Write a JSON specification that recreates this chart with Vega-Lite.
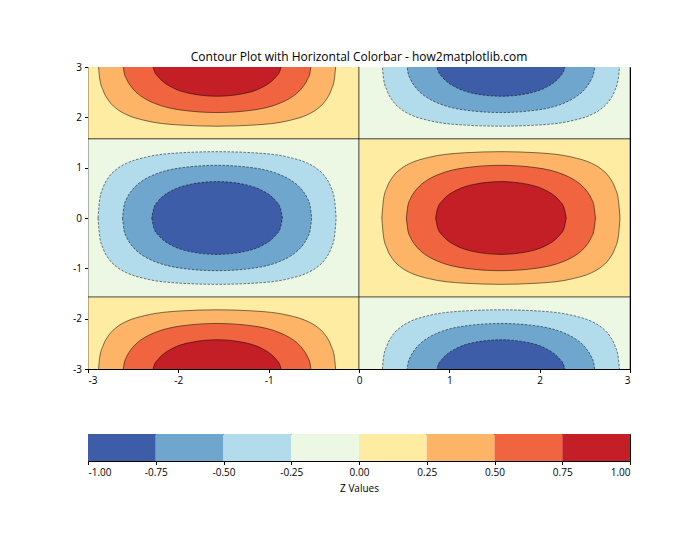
{
  "$schema": "https://vega.github.io/schema/vega-lite/v6.json",
  "padding": {"left": 72, "top": 50, "right": 5, "bottom": 5},
  "spacing": 47,
  "config": {
    "font": "Open Sans",
    "view": {"stroke": "black", "strokeWidth": 1},
    "axis": {"domainColor": "black", "domainWidth": 1, "tickColor": "black", "tickSize": 3.5, "tickWidth": 1, "labelFontSize": 10, "labelColor": "black", "labelPadding": 3, "grid": false, "titleFontSize": 10, "titleFontWeight": "normal", "titleColor": "black"},
    "title": {"fontSize": 12, "fontWeight": "normal", "color": "black", "frame": "group", "offset": -2}
  },
  "vconcat": [
    {
      "title": "Contour Plot with Horizontal Colorbar - how2matplotlib.com",
      "width": 542,
      "height": 302,
      "data": {"values": [
        {"c":"A0","l":0,"z":0.125,"x":-3,"y":1.5708,"y2":3.142},
        {"c":"A0","l":0,"z":0.125,"x":0,"y":1.5708,"y2":3.142},
        {"c":"B0","l":0,"z":-0.125,"x":0,"y":1.5708,"y2":3.142},
        {"c":"B0","l":0,"z":-0.125,"x":3,"y":1.5708,"y2":3.142},
        {"c":"C0","l":0,"z":-0.125,"x":-3,"y":-1.5708,"y2":1.5708},
        {"c":"C0","l":0,"z":-0.125,"x":0,"y":-1.5708,"y2":1.5708},
        {"c":"D0","l":0,"z":0.125,"x":0,"y":-1.5708,"y2":1.5708},
        {"c":"D0","l":0,"z":0.125,"x":3,"y":-1.5708,"y2":1.5708},
        {"c":"E0","l":0,"z":0.125,"x":-3,"y":-3.142,"y2":-1.5708},
        {"c":"E0","l":0,"z":0.125,"x":0,"y":-3.142,"y2":-1.5708},
        {"c":"F0","l":0,"z":-0.125,"x":0,"y":-3.142,"y2":-1.5708},
        {"c":"F0","l":0,"z":-0.125,"x":3,"y":-3.142,"y2":-1.5708},

        {"c":"A1","l":1,"z":0.375,"x":-2.889,"y":3.142,"y2":3.142},
        {"c":"A1","l":1,"z":0.375,"x":-2.871,"y":2.778,"y2":3.142},
        {"c":"A1","l":1,"z":0.375,"x":-2.831,"y":2.528,"y2":3.142},
        {"c":"A1","l":1,"z":0.375,"x":-2.771,"y":2.332,"y2":3.142},
        {"c":"A1","l":1,"z":0.375,"x":-2.671,"y":2.155,"y2":3.142},
        {"c":"A1","l":1,"z":0.375,"x":-2.571,"y":2.052,"y2":3.142},
        {"c":"A1","l":1,"z":0.375,"x":-2.371,"y":1.938,"y2":3.142},
        {"c":"A1","l":1,"z":0.375,"x":-1.971,"y":1.846,"y2":3.142},
        {"c":"A1","l":1,"z":0.375,"x":-1.571,"y":1.824,"y2":3.142},
        {"c":"A1","l":1,"z":0.375,"x":-1.171,"y":1.846,"y2":3.142},
        {"c":"A1","l":1,"z":0.375,"x":-0.771,"y":1.938,"y2":3.142},
        {"c":"A1","l":1,"z":0.375,"x":-0.571,"y":2.052,"y2":3.142},
        {"c":"A1","l":1,"z":0.375,"x":-0.471,"y":2.155,"y2":3.142},
        {"c":"A1","l":1,"z":0.375,"x":-0.371,"y":2.332,"y2":3.142},
        {"c":"A1","l":1,"z":0.375,"x":-0.311,"y":2.528,"y2":3.142},
        {"c":"A1","l":1,"z":0.375,"x":-0.271,"y":2.778,"y2":3.142},
        {"c":"A1","l":1,"z":0.375,"x":-0.253,"y":3.142,"y2":3.142},

        {"c":"C1","l":1,"z":-0.375,"x":-2.889,"y":0,"y2":0},
        {"c":"C1","l":1,"z":-0.375,"x":-2.871,"y":-0.364,"y2":0.364},
        {"c":"C1","l":1,"z":-0.375,"x":-2.831,"y":-0.614,"y2":0.614},
        {"c":"C1","l":1,"z":-0.375,"x":-2.771,"y":-0.81,"y2":0.81},
        {"c":"C1","l":1,"z":-0.375,"x":-2.671,"y":-0.987,"y2":0.987},
        {"c":"C1","l":1,"z":-0.375,"x":-2.571,"y":-1.09,"y2":1.09},
        {"c":"C1","l":1,"z":-0.375,"x":-2.371,"y":-1.204,"y2":1.204},
        {"c":"C1","l":1,"z":-0.375,"x":-1.971,"y":-1.296,"y2":1.296},
        {"c":"C1","l":1,"z":-0.375,"x":-1.571,"y":-1.318,"y2":1.318},
        {"c":"C1","l":1,"z":-0.375,"x":-1.171,"y":-1.296,"y2":1.296},
        {"c":"C1","l":1,"z":-0.375,"x":-0.771,"y":-1.204,"y2":1.204},
        {"c":"C1","l":1,"z":-0.375,"x":-0.571,"y":-1.09,"y2":1.09},
        {"c":"C1","l":1,"z":-0.375,"x":-0.471,"y":-0.987,"y2":0.987},
        {"c":"C1","l":1,"z":-0.375,"x":-0.371,"y":-0.81,"y2":0.81},
        {"c":"C1","l":1,"z":-0.375,"x":-0.311,"y":-0.614,"y2":0.614},
        {"c":"C1","l":1,"z":-0.375,"x":-0.271,"y":-0.364,"y2":0.364},
        {"c":"C1","l":1,"z":-0.375,"x":-0.253,"y":0,"y2":0},

        {"c":"E1","l":1,"z":0.375,"x":-2.889,"y":-3.142,"y2":-3.142},
        {"c":"E1","l":1,"z":0.375,"x":-2.871,"y":-3.142,"y2":-2.778},
        {"c":"E1","l":1,"z":0.375,"x":-2.831,"y":-3.142,"y2":-2.528},
        {"c":"E1","l":1,"z":0.375,"x":-2.771,"y":-3.142,"y2":-2.332},
        {"c":"E1","l":1,"z":0.375,"x":-2.671,"y":-3.142,"y2":-2.155},
        {"c":"E1","l":1,"z":0.375,"x":-2.571,"y":-3.142,"y2":-2.052},
        {"c":"E1","l":1,"z":0.375,"x":-2.371,"y":-3.142,"y2":-1.938},
        {"c":"E1","l":1,"z":0.375,"x":-1.971,"y":-3.142,"y2":-1.846},
        {"c":"E1","l":1,"z":0.375,"x":-1.571,"y":-3.142,"y2":-1.824},
        {"c":"E1","l":1,"z":0.375,"x":-1.171,"y":-3.142,"y2":-1.846},
        {"c":"E1","l":1,"z":0.375,"x":-0.771,"y":-3.142,"y2":-1.938},
        {"c":"E1","l":1,"z":0.375,"x":-0.571,"y":-3.142,"y2":-2.052},
        {"c":"E1","l":1,"z":0.375,"x":-0.471,"y":-3.142,"y2":-2.155},
        {"c":"E1","l":1,"z":0.375,"x":-0.371,"y":-3.142,"y2":-2.332},
        {"c":"E1","l":1,"z":0.375,"x":-0.311,"y":-3.142,"y2":-2.528},
        {"c":"E1","l":1,"z":0.375,"x":-0.271,"y":-3.142,"y2":-2.778},
        {"c":"E1","l":1,"z":0.375,"x":-0.253,"y":-3.142,"y2":-3.142},

        {"c":"B1","l":1,"z":-0.375,"x":0.253,"y":3.142,"y2":3.142},
        {"c":"B1","l":1,"z":-0.375,"x":0.271,"y":2.778,"y2":3.142},
        {"c":"B1","l":1,"z":-0.375,"x":0.311,"y":2.528,"y2":3.142},
        {"c":"B1","l":1,"z":-0.375,"x":0.371,"y":2.332,"y2":3.142},
        {"c":"B1","l":1,"z":-0.375,"x":0.471,"y":2.155,"y2":3.142},
        {"c":"B1","l":1,"z":-0.375,"x":0.571,"y":2.052,"y2":3.142},
        {"c":"B1","l":1,"z":-0.375,"x":0.771,"y":1.938,"y2":3.142},
        {"c":"B1","l":1,"z":-0.375,"x":1.171,"y":1.846,"y2":3.142},
        {"c":"B1","l":1,"z":-0.375,"x":1.571,"y":1.824,"y2":3.142},
        {"c":"B1","l":1,"z":-0.375,"x":1.971,"y":1.846,"y2":3.142},
        {"c":"B1","l":1,"z":-0.375,"x":2.371,"y":1.938,"y2":3.142},
        {"c":"B1","l":1,"z":-0.375,"x":2.571,"y":2.052,"y2":3.142},
        {"c":"B1","l":1,"z":-0.375,"x":2.671,"y":2.155,"y2":3.142},
        {"c":"B1","l":1,"z":-0.375,"x":2.771,"y":2.332,"y2":3.142},
        {"c":"B1","l":1,"z":-0.375,"x":2.831,"y":2.528,"y2":3.142},
        {"c":"B1","l":1,"z":-0.375,"x":2.871,"y":2.778,"y2":3.142},
        {"c":"B1","l":1,"z":-0.375,"x":2.889,"y":3.142,"y2":3.142},

        {"c":"D1","l":1,"z":0.375,"x":0.253,"y":0,"y2":0},
        {"c":"D1","l":1,"z":0.375,"x":0.271,"y":-0.364,"y2":0.364},
        {"c":"D1","l":1,"z":0.375,"x":0.311,"y":-0.614,"y2":0.614},
        {"c":"D1","l":1,"z":0.375,"x":0.371,"y":-0.81,"y2":0.81},
        {"c":"D1","l":1,"z":0.375,"x":0.471,"y":-0.987,"y2":0.987},
        {"c":"D1","l":1,"z":0.375,"x":0.571,"y":-1.09,"y2":1.09},
        {"c":"D1","l":1,"z":0.375,"x":0.771,"y":-1.204,"y2":1.204},
        {"c":"D1","l":1,"z":0.375,"x":1.171,"y":-1.296,"y2":1.296},
        {"c":"D1","l":1,"z":0.375,"x":1.571,"y":-1.318,"y2":1.318},
        {"c":"D1","l":1,"z":0.375,"x":1.971,"y":-1.296,"y2":1.296},
        {"c":"D1","l":1,"z":0.375,"x":2.371,"y":-1.204,"y2":1.204},
        {"c":"D1","l":1,"z":0.375,"x":2.571,"y":-1.09,"y2":1.09},
        {"c":"D1","l":1,"z":0.375,"x":2.671,"y":-0.987,"y2":0.987},
        {"c":"D1","l":1,"z":0.375,"x":2.771,"y":-0.81,"y2":0.81},
        {"c":"D1","l":1,"z":0.375,"x":2.831,"y":-0.614,"y2":0.614},
        {"c":"D1","l":1,"z":0.375,"x":2.871,"y":-0.364,"y2":0.364},
        {"c":"D1","l":1,"z":0.375,"x":2.889,"y":0,"y2":0},

        {"c":"F1","l":1,"z":-0.375,"x":0.253,"y":-3.142,"y2":-3.142},
        {"c":"F1","l":1,"z":-0.375,"x":0.271,"y":-3.142,"y2":-2.778},
        {"c":"F1","l":1,"z":-0.375,"x":0.311,"y":-3.142,"y2":-2.528},
        {"c":"F1","l":1,"z":-0.375,"x":0.371,"y":-3.142,"y2":-2.332},
        {"c":"F1","l":1,"z":-0.375,"x":0.471,"y":-3.142,"y2":-2.155},
        {"c":"F1","l":1,"z":-0.375,"x":0.571,"y":-3.142,"y2":-2.052},
        {"c":"F1","l":1,"z":-0.375,"x":0.771,"y":-3.142,"y2":-1.938},
        {"c":"F1","l":1,"z":-0.375,"x":1.171,"y":-3.142,"y2":-1.846},
        {"c":"F1","l":1,"z":-0.375,"x":1.571,"y":-3.142,"y2":-1.824},
        {"c":"F1","l":1,"z":-0.375,"x":1.971,"y":-3.142,"y2":-1.846},
        {"c":"F1","l":1,"z":-0.375,"x":2.371,"y":-3.142,"y2":-1.938},
        {"c":"F1","l":1,"z":-0.375,"x":2.571,"y":-3.142,"y2":-2.052},
        {"c":"F1","l":1,"z":-0.375,"x":2.671,"y":-3.142,"y2":-2.155},
        {"c":"F1","l":1,"z":-0.375,"x":2.771,"y":-3.142,"y2":-2.332},
        {"c":"F1","l":1,"z":-0.375,"x":2.831,"y":-3.142,"y2":-2.528},
        {"c":"F1","l":1,"z":-0.375,"x":2.871,"y":-3.142,"y2":-2.778},
        {"c":"F1","l":1,"z":-0.375,"x":2.889,"y":-3.142,"y2":-3.142},

        {"c":"A2","l":2,"z":0.625,"x":-2.618,"y":3.142,"y2":3.142},
        {"c":"A2","l":2,"z":0.625,"x":-2.601,"y":2.901,"y2":3.142},
        {"c":"A2","l":2,"z":0.625,"x":-2.571,"y":2.753,"y2":3.142},
        {"c":"A2","l":2,"z":0.625,"x":-2.521,"y":2.607,"y2":3.142},
        {"c":"A2","l":2,"z":0.625,"x":-2.471,"y":2.506,"y2":3.142},
        {"c":"A2","l":2,"z":0.625,"x":-2.371,"y":2.372,"y2":3.142},
        {"c":"A2","l":2,"z":0.625,"x":-2.271,"y":2.284,"y2":3.142},
        {"c":"A2","l":2,"z":0.625,"x":-1.971,"y":2.145,"y2":3.142},
        {"c":"A2","l":2,"z":0.625,"x":-1.571,"y":2.095,"y2":3.142},
        {"c":"A2","l":2,"z":0.625,"x":-1.171,"y":2.145,"y2":3.142},
        {"c":"A2","l":2,"z":0.625,"x":-0.871,"y":2.284,"y2":3.142},
        {"c":"A2","l":2,"z":0.625,"x":-0.771,"y":2.372,"y2":3.142},
        {"c":"A2","l":2,"z":0.625,"x":-0.671,"y":2.506,"y2":3.142},
        {"c":"A2","l":2,"z":0.625,"x":-0.621,"y":2.607,"y2":3.142},
        {"c":"A2","l":2,"z":0.625,"x":-0.571,"y":2.753,"y2":3.142},
        {"c":"A2","l":2,"z":0.625,"x":-0.541,"y":2.901,"y2":3.142},
        {"c":"A2","l":2,"z":0.625,"x":-0.524,"y":3.142,"y2":3.142},

        {"c":"C2","l":2,"z":-0.625,"x":-2.618,"y":0,"y2":0},
        {"c":"C2","l":2,"z":-0.625,"x":-2.601,"y":-0.241,"y2":0.241},
        {"c":"C2","l":2,"z":-0.625,"x":-2.571,"y":-0.389,"y2":0.389},
        {"c":"C2","l":2,"z":-0.625,"x":-2.521,"y":-0.535,"y2":0.535},
        {"c":"C2","l":2,"z":-0.625,"x":-2.471,"y":-0.636,"y2":0.636},
        {"c":"C2","l":2,"z":-0.625,"x":-2.371,"y":-0.77,"y2":0.77},
        {"c":"C2","l":2,"z":-0.625,"x":-2.271,"y":-0.858,"y2":0.858},
        {"c":"C2","l":2,"z":-0.625,"x":-1.971,"y":-0.997,"y2":0.997},
        {"c":"C2","l":2,"z":-0.625,"x":-1.571,"y":-1.047,"y2":1.047},
        {"c":"C2","l":2,"z":-0.625,"x":-1.171,"y":-0.997,"y2":0.997},
        {"c":"C2","l":2,"z":-0.625,"x":-0.871,"y":-0.858,"y2":0.858},
        {"c":"C2","l":2,"z":-0.625,"x":-0.771,"y":-0.77,"y2":0.77},
        {"c":"C2","l":2,"z":-0.625,"x":-0.671,"y":-0.636,"y2":0.636},
        {"c":"C2","l":2,"z":-0.625,"x":-0.621,"y":-0.535,"y2":0.535},
        {"c":"C2","l":2,"z":-0.625,"x":-0.571,"y":-0.389,"y2":0.389},
        {"c":"C2","l":2,"z":-0.625,"x":-0.541,"y":-0.241,"y2":0.241},
        {"c":"C2","l":2,"z":-0.625,"x":-0.524,"y":0,"y2":0},

        {"c":"E2","l":2,"z":0.625,"x":-2.618,"y":-3.142,"y2":-3.142},
        {"c":"E2","l":2,"z":0.625,"x":-2.601,"y":-3.142,"y2":-2.901},
        {"c":"E2","l":2,"z":0.625,"x":-2.571,"y":-3.142,"y2":-2.753},
        {"c":"E2","l":2,"z":0.625,"x":-2.521,"y":-3.142,"y2":-2.607},
        {"c":"E2","l":2,"z":0.625,"x":-2.471,"y":-3.142,"y2":-2.506},
        {"c":"E2","l":2,"z":0.625,"x":-2.371,"y":-3.142,"y2":-2.372},
        {"c":"E2","l":2,"z":0.625,"x":-2.271,"y":-3.142,"y2":-2.284},
        {"c":"E2","l":2,"z":0.625,"x":-1.971,"y":-3.142,"y2":-2.145},
        {"c":"E2","l":2,"z":0.625,"x":-1.571,"y":-3.142,"y2":-2.095},
        {"c":"E2","l":2,"z":0.625,"x":-1.171,"y":-3.142,"y2":-2.145},
        {"c":"E2","l":2,"z":0.625,"x":-0.871,"y":-3.142,"y2":-2.284},
        {"c":"E2","l":2,"z":0.625,"x":-0.771,"y":-3.142,"y2":-2.372},
        {"c":"E2","l":2,"z":0.625,"x":-0.671,"y":-3.142,"y2":-2.506},
        {"c":"E2","l":2,"z":0.625,"x":-0.621,"y":-3.142,"y2":-2.607},
        {"c":"E2","l":2,"z":0.625,"x":-0.571,"y":-3.142,"y2":-2.753},
        {"c":"E2","l":2,"z":0.625,"x":-0.541,"y":-3.142,"y2":-2.901},
        {"c":"E2","l":2,"z":0.625,"x":-0.524,"y":-3.142,"y2":-3.142},

        {"c":"B2","l":2,"z":-0.625,"x":0.524,"y":3.142,"y2":3.142},
        {"c":"B2","l":2,"z":-0.625,"x":0.541,"y":2.901,"y2":3.142},
        {"c":"B2","l":2,"z":-0.625,"x":0.571,"y":2.753,"y2":3.142},
        {"c":"B2","l":2,"z":-0.625,"x":0.621,"y":2.607,"y2":3.142},
        {"c":"B2","l":2,"z":-0.625,"x":0.671,"y":2.506,"y2":3.142},
        {"c":"B2","l":2,"z":-0.625,"x":0.771,"y":2.372,"y2":3.142},
        {"c":"B2","l":2,"z":-0.625,"x":0.871,"y":2.284,"y2":3.142},
        {"c":"B2","l":2,"z":-0.625,"x":1.171,"y":2.145,"y2":3.142},
        {"c":"B2","l":2,"z":-0.625,"x":1.571,"y":2.095,"y2":3.142},
        {"c":"B2","l":2,"z":-0.625,"x":1.971,"y":2.145,"y2":3.142},
        {"c":"B2","l":2,"z":-0.625,"x":2.271,"y":2.284,"y2":3.142},
        {"c":"B2","l":2,"z":-0.625,"x":2.371,"y":2.372,"y2":3.142},
        {"c":"B2","l":2,"z":-0.625,"x":2.471,"y":2.506,"y2":3.142},
        {"c":"B2","l":2,"z":-0.625,"x":2.521,"y":2.607,"y2":3.142},
        {"c":"B2","l":2,"z":-0.625,"x":2.571,"y":2.753,"y2":3.142},
        {"c":"B2","l":2,"z":-0.625,"x":2.601,"y":2.901,"y2":3.142},
        {"c":"B2","l":2,"z":-0.625,"x":2.618,"y":3.142,"y2":3.142},

        {"c":"D2","l":2,"z":0.625,"x":0.524,"y":0,"y2":0},
        {"c":"D2","l":2,"z":0.625,"x":0.541,"y":-0.241,"y2":0.241},
        {"c":"D2","l":2,"z":0.625,"x":0.571,"y":-0.389,"y2":0.389},
        {"c":"D2","l":2,"z":0.625,"x":0.621,"y":-0.535,"y2":0.535},
        {"c":"D2","l":2,"z":0.625,"x":0.671,"y":-0.636,"y2":0.636},
        {"c":"D2","l":2,"z":0.625,"x":0.771,"y":-0.77,"y2":0.77},
        {"c":"D2","l":2,"z":0.625,"x":0.871,"y":-0.858,"y2":0.858},
        {"c":"D2","l":2,"z":0.625,"x":1.171,"y":-0.997,"y2":0.997},
        {"c":"D2","l":2,"z":0.625,"x":1.571,"y":-1.047,"y2":1.047},
        {"c":"D2","l":2,"z":0.625,"x":1.971,"y":-0.997,"y2":0.997},
        {"c":"D2","l":2,"z":0.625,"x":2.271,"y":-0.858,"y2":0.858},
        {"c":"D2","l":2,"z":0.625,"x":2.371,"y":-0.77,"y2":0.77},
        {"c":"D2","l":2,"z":0.625,"x":2.471,"y":-0.636,"y2":0.636},
        {"c":"D2","l":2,"z":0.625,"x":2.521,"y":-0.535,"y2":0.535},
        {"c":"D2","l":2,"z":0.625,"x":2.571,"y":-0.389,"y2":0.389},
        {"c":"D2","l":2,"z":0.625,"x":2.601,"y":-0.241,"y2":0.241},
        {"c":"D2","l":2,"z":0.625,"x":2.618,"y":0,"y2":0},

        {"c":"F2","l":2,"z":-0.625,"x":0.524,"y":-3.142,"y2":-3.142},
        {"c":"F2","l":2,"z":-0.625,"x":0.541,"y":-3.142,"y2":-2.901},
        {"c":"F2","l":2,"z":-0.625,"x":0.571,"y":-3.142,"y2":-2.753},
        {"c":"F2","l":2,"z":-0.625,"x":0.621,"y":-3.142,"y2":-2.607},
        {"c":"F2","l":2,"z":-0.625,"x":0.671,"y":-3.142,"y2":-2.506},
        {"c":"F2","l":2,"z":-0.625,"x":0.771,"y":-3.142,"y2":-2.372},
        {"c":"F2","l":2,"z":-0.625,"x":0.871,"y":-3.142,"y2":-2.284},
        {"c":"F2","l":2,"z":-0.625,"x":1.171,"y":-3.142,"y2":-2.145},
        {"c":"F2","l":2,"z":-0.625,"x":1.571,"y":-3.142,"y2":-2.095},
        {"c":"F2","l":2,"z":-0.625,"x":1.971,"y":-3.142,"y2":-2.145},
        {"c":"F2","l":2,"z":-0.625,"x":2.271,"y":-3.142,"y2":-2.284},
        {"c":"F2","l":2,"z":-0.625,"x":2.371,"y":-3.142,"y2":-2.372},
        {"c":"F2","l":2,"z":-0.625,"x":2.471,"y":-3.142,"y2":-2.506},
        {"c":"F2","l":2,"z":-0.625,"x":2.521,"y":-3.142,"y2":-2.607},
        {"c":"F2","l":2,"z":-0.625,"x":2.571,"y":-3.142,"y2":-2.753},
        {"c":"F2","l":2,"z":-0.625,"x":2.601,"y":-3.142,"y2":-2.901},
        {"c":"F2","l":2,"z":-0.625,"x":2.618,"y":-3.142,"y2":-3.142},

        {"c":"A3","l":3,"z":0.875,"x":-2.294,"y":3.142,"y2":3.142},
        {"c":"A3","l":3,"z":0.875,"x":-2.271,"y":2.945,"y2":3.142},
        {"c":"A3","l":3,"z":0.875,"x":-2.221,"y":2.802,"y2":3.142},
        {"c":"A3","l":3,"z":0.875,"x":-2.171,"y":2.711,"y2":3.142},
        {"c":"A3","l":3,"z":0.875,"x":-2.071,"y":2.596,"y2":3.142},
        {"c":"A3","l":3,"z":0.875,"x":-1.871,"y":2.474,"y2":3.142},
        {"c":"A3","l":3,"z":0.875,"x":-1.571,"y":2.419,"y2":3.142},
        {"c":"A3","l":3,"z":0.875,"x":-1.271,"y":2.474,"y2":3.142},
        {"c":"A3","l":3,"z":0.875,"x":-1.071,"y":2.596,"y2":3.142},
        {"c":"A3","l":3,"z":0.875,"x":-0.971,"y":2.711,"y2":3.142},
        {"c":"A3","l":3,"z":0.875,"x":-0.921,"y":2.802,"y2":3.142},
        {"c":"A3","l":3,"z":0.875,"x":-0.871,"y":2.945,"y2":3.142},
        {"c":"A3","l":3,"z":0.875,"x":-0.848,"y":3.142,"y2":3.142},

        {"c":"C3","l":3,"z":-0.875,"x":-2.294,"y":0,"y2":0},
        {"c":"C3","l":3,"z":-0.875,"x":-2.271,"y":-0.197,"y2":0.197},
        {"c":"C3","l":3,"z":-0.875,"x":-2.221,"y":-0.34,"y2":0.34},
        {"c":"C3","l":3,"z":-0.875,"x":-2.171,"y":-0.431,"y2":0.431},
        {"c":"C3","l":3,"z":-0.875,"x":-2.071,"y":-0.546,"y2":0.546},
        {"c":"C3","l":3,"z":-0.875,"x":-1.871,"y":-0.668,"y2":0.668},
        {"c":"C3","l":3,"z":-0.875,"x":-1.571,"y":-0.723,"y2":0.723},
        {"c":"C3","l":3,"z":-0.875,"x":-1.271,"y":-0.668,"y2":0.668},
        {"c":"C3","l":3,"z":-0.875,"x":-1.071,"y":-0.546,"y2":0.546},
        {"c":"C3","l":3,"z":-0.875,"x":-0.971,"y":-0.431,"y2":0.431},
        {"c":"C3","l":3,"z":-0.875,"x":-0.921,"y":-0.34,"y2":0.34},
        {"c":"C3","l":3,"z":-0.875,"x":-0.871,"y":-0.197,"y2":0.197},
        {"c":"C3","l":3,"z":-0.875,"x":-0.848,"y":0,"y2":0},

        {"c":"E3","l":3,"z":0.875,"x":-2.294,"y":-3.142,"y2":-3.142},
        {"c":"E3","l":3,"z":0.875,"x":-2.271,"y":-3.142,"y2":-2.945},
        {"c":"E3","l":3,"z":0.875,"x":-2.221,"y":-3.142,"y2":-2.802},
        {"c":"E3","l":3,"z":0.875,"x":-2.171,"y":-3.142,"y2":-2.711},
        {"c":"E3","l":3,"z":0.875,"x":-2.071,"y":-3.142,"y2":-2.596},
        {"c":"E3","l":3,"z":0.875,"x":-1.871,"y":-3.142,"y2":-2.474},
        {"c":"E3","l":3,"z":0.875,"x":-1.571,"y":-3.142,"y2":-2.419},
        {"c":"E3","l":3,"z":0.875,"x":-1.271,"y":-3.142,"y2":-2.474},
        {"c":"E3","l":3,"z":0.875,"x":-1.071,"y":-3.142,"y2":-2.596},
        {"c":"E3","l":3,"z":0.875,"x":-0.971,"y":-3.142,"y2":-2.711},
        {"c":"E3","l":3,"z":0.875,"x":-0.921,"y":-3.142,"y2":-2.802},
        {"c":"E3","l":3,"z":0.875,"x":-0.871,"y":-3.142,"y2":-2.945},
        {"c":"E3","l":3,"z":0.875,"x":-0.848,"y":-3.142,"y2":-3.142},

        {"c":"B3","l":3,"z":-0.875,"x":0.848,"y":3.142,"y2":3.142},
        {"c":"B3","l":3,"z":-0.875,"x":0.871,"y":2.945,"y2":3.142},
        {"c":"B3","l":3,"z":-0.875,"x":0.921,"y":2.802,"y2":3.142},
        {"c":"B3","l":3,"z":-0.875,"x":0.971,"y":2.711,"y2":3.142},
        {"c":"B3","l":3,"z":-0.875,"x":1.071,"y":2.596,"y2":3.142},
        {"c":"B3","l":3,"z":-0.875,"x":1.271,"y":2.474,"y2":3.142},
        {"c":"B3","l":3,"z":-0.875,"x":1.571,"y":2.419,"y2":3.142},
        {"c":"B3","l":3,"z":-0.875,"x":1.871,"y":2.474,"y2":3.142},
        {"c":"B3","l":3,"z":-0.875,"x":2.071,"y":2.596,"y2":3.142},
        {"c":"B3","l":3,"z":-0.875,"x":2.171,"y":2.711,"y2":3.142},
        {"c":"B3","l":3,"z":-0.875,"x":2.221,"y":2.802,"y2":3.142},
        {"c":"B3","l":3,"z":-0.875,"x":2.271,"y":2.945,"y2":3.142},
        {"c":"B3","l":3,"z":-0.875,"x":2.294,"y":3.142,"y2":3.142},

        {"c":"D3","l":3,"z":0.875,"x":0.848,"y":0,"y2":0},
        {"c":"D3","l":3,"z":0.875,"x":0.871,"y":-0.197,"y2":0.197},
        {"c":"D3","l":3,"z":0.875,"x":0.921,"y":-0.34,"y2":0.34},
        {"c":"D3","l":3,"z":0.875,"x":0.971,"y":-0.431,"y2":0.431},
        {"c":"D3","l":3,"z":0.875,"x":1.071,"y":-0.546,"y2":0.546},
        {"c":"D3","l":3,"z":0.875,"x":1.271,"y":-0.668,"y2":0.668},
        {"c":"D3","l":3,"z":0.875,"x":1.571,"y":-0.723,"y2":0.723},
        {"c":"D3","l":3,"z":0.875,"x":1.871,"y":-0.668,"y2":0.668},
        {"c":"D3","l":3,"z":0.875,"x":2.071,"y":-0.546,"y2":0.546},
        {"c":"D3","l":3,"z":0.875,"x":2.171,"y":-0.431,"y2":0.431},
        {"c":"D3","l":3,"z":0.875,"x":2.221,"y":-0.34,"y2":0.34},
        {"c":"D3","l":3,"z":0.875,"x":2.271,"y":-0.197,"y2":0.197},
        {"c":"D3","l":3,"z":0.875,"x":2.294,"y":0,"y2":0},

        {"c":"F3","l":3,"z":-0.875,"x":0.848,"y":-3.142,"y2":-3.142},
        {"c":"F3","l":3,"z":-0.875,"x":0.871,"y":-3.142,"y2":-2.945},
        {"c":"F3","l":3,"z":-0.875,"x":0.921,"y":-3.142,"y2":-2.802},
        {"c":"F3","l":3,"z":-0.875,"x":0.971,"y":-3.142,"y2":-2.711},
        {"c":"F3","l":3,"z":-0.875,"x":1.071,"y":-3.142,"y2":-2.596},
        {"c":"F3","l":3,"z":-0.875,"x":1.271,"y":-3.142,"y2":-2.474},
        {"c":"F3","l":3,"z":-0.875,"x":1.571,"y":-3.142,"y2":-2.419},
        {"c":"F3","l":3,"z":-0.875,"x":1.871,"y":-3.142,"y2":-2.474},
        {"c":"F3","l":3,"z":-0.875,"x":2.071,"y":-3.142,"y2":-2.596},
        {"c":"F3","l":3,"z":-0.875,"x":2.171,"y":-3.142,"y2":-2.711},
        {"c":"F3","l":3,"z":-0.875,"x":2.221,"y":-3.142,"y2":-2.802},
        {"c":"F3","l":3,"z":-0.875,"x":2.271,"y":-3.142,"y2":-2.945},
        {"c":"F3","l":3,"z":-0.875,"x":2.294,"y":-3.142,"y2":-3.142}
      ]},
      "encoding": {
        "x": {"field": "x", "type": "quantitative", "scale": {"domain": [-3, 3], "nice": false, "zero": false},
              "axis": {"values": [-3, -2, -1, 0, 1, 2, 3], "title": null, "labelExpr": "replace(datum.label, '\u2212', '-')"}},
        "y": {"field": "y", "type": "quantitative", "scale": {"domain": [-3, 3], "nice": false, "zero": false},
              "axis": {"values": [-3, -2, -1, 0, 1, 2, 3], "title": null, "labelExpr": "replace(datum.label, '\u2212', '-')"}},
        "y2": {"field": "y2"},
        "detail": {"field": "c", "type": "nominal"},
        "color": {"field": "z", "type": "quantitative", "legend": null,
                  "scale": {"type": "threshold", "domain": [-0.75, -0.5, -0.25, 0, 0.25, 0.5, 0.75],
                            "range": ["#3e5da8", "#6ea6cd", "#b2dceb", "#ecf8e3", "#feeca2", "#fdb467", "#f0653f", "#c41e27"]}}
      },
      "layer": [
        {"transform": [{"filter": "datum.l == 0"}], "mark": {"type": "area", "clip": true, "interpolate": "linear", "stroke": "black", "strokeWidth": 0.9, "strokeOpacity": 0.6, "fillOpacity": 1}},
        {"transform": [{"filter": "datum.l == 1 && datum.z > 0"}], "mark": {"type": "area", "clip": true, "interpolate": "monotone", "stroke": "black", "strokeWidth": 0.8, "strokeOpacity": 0.65, "fillOpacity": 1}},
        {"transform": [{"filter": "datum.l == 1 && datum.z < 0"}], "mark": {"type": "area", "clip": true, "interpolate": "monotone", "stroke": "black", "strokeWidth": 0.8, "strokeOpacity": 0.65, "strokeDash": [2.5, 1.5], "fillOpacity": 1}},
        {"transform": [{"filter": "datum.l == 2 && datum.z > 0"}], "mark": {"type": "area", "clip": true, "interpolate": "monotone", "stroke": "black", "strokeWidth": 0.8, "strokeOpacity": 0.65, "fillOpacity": 1}},
        {"transform": [{"filter": "datum.l == 2 && datum.z < 0"}], "mark": {"type": "area", "clip": true, "interpolate": "monotone", "stroke": "black", "strokeWidth": 0.8, "strokeOpacity": 0.65, "strokeDash": [2.5, 1.5], "fillOpacity": 1}},
        {"transform": [{"filter": "datum.l == 3 && datum.z > 0"}], "mark": {"type": "area", "clip": true, "interpolate": "monotone", "stroke": "black", "strokeWidth": 0.8, "strokeOpacity": 0.65, "fillOpacity": 1}},
        {"transform": [{"filter": "datum.l == 3 && datum.z < 0"}], "mark": {"type": "area", "clip": true, "interpolate": "monotone", "stroke": "black", "strokeWidth": 0.8, "strokeOpacity": 0.65, "strokeDash": [2.5, 1.5], "fillOpacity": 1}}
      ]
    },
    {
      "width": 542,
      "height": 27,
      "data": {"values": [
        {"a": -1, "b": -0.75, "z": -0.875},
        {"a": -0.75, "b": -0.5, "z": -0.625},
        {"a": -0.5, "b": -0.25, "z": -0.375},
        {"a": -0.25, "b": 0, "z": -0.125},
        {"a": 0, "b": 0.25, "z": 0.125},
        {"a": 0.25, "b": 0.5, "z": 0.375},
        {"a": 0.5, "b": 0.75, "z": 0.625},
        {"a": 0.75, "b": 1, "z": 0.875}
      ]},
      "mark": {"type": "rect"},
      "encoding": {
        "x": {"field": "a", "type": "quantitative", "scale": {"domain": [-1, 1], "nice": false, "zero": false},
              "axis": {"values": [-1, -0.75, -0.5, -0.25, 0, 0.25, 0.5, 0.75, 1], "format": ".2f", "title": "Z Values", "titlePadding": 6,
                       "labelExpr": "replace(datum.label, '\u2212', '-')"}},
        "x2": {"field": "b"},
        "color": {"field": "z", "type": "quantitative", "legend": null,
                  "scale": {"type": "threshold", "domain": [-0.75, -0.5, -0.25, 0, 0.25, 0.5, 0.75],
                            "range": ["#3e5da8", "#6ea6cd", "#b2dceb", "#ecf8e3", "#feeca2", "#fdb467", "#f0653f", "#c41e27"]}}
      }
    }
  ]
}
